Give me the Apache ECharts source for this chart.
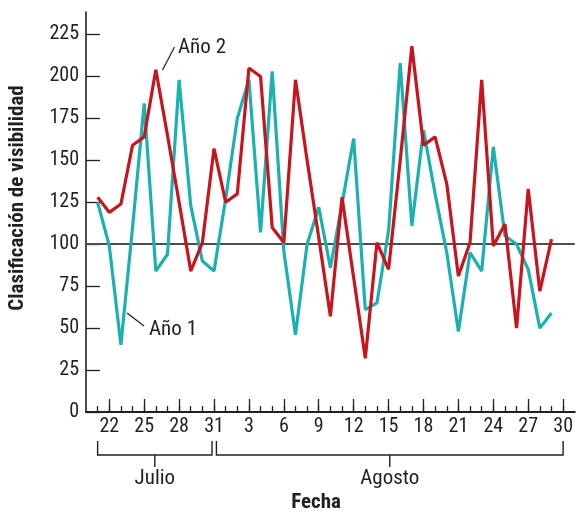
<!DOCTYPE html>
<html>
<head>
<meta charset="utf-8">
<script src="https://cdn.jsdelivr.net/npm/echarts@6/dist/echarts.min.js"></script>
<style>
html,body{margin:0;padding:0;background:#fff;}
#c{width:576px;height:512px;}
</style>
</head>
<body>
<div id="c"></div>
<script>
// ---- data ----
const julyDays = [20,21,22,23,24,25,26,27,28,29,30,31];
const augDays = [];
for (let d = 1; d <= 31; d++) augDays.push(d);
const axisDays = julyDays.map(d => 'Jul ' + d).concat(augDays.map(d => 'Ago ' + d));
const dates = axisDays.slice(1, 41); // Jul 21 .. Ago 29
const year1 = [125,99,40,110,184,84,94,198,123,90,84,
  127,175,198,107,203,96,46,100,122,86,124,163,61,65,108,208,111,168,130,95,48,95,84,158,105,100,85,50,59];
const year2 = [128,119,124,159,164,204,165,125,84,101,157,
  125,130,205,200,110,101,198,150,104,57,128,80,32,101,85,150,218,159,164,136,81,101,198,99,112,50,133,72,103];
const yTicks = [0,25,50,75,100,125,150,175,200,225];
const refValue = 100;
const seriesNames = ['Año 1','Año 2'];
const monthNames = ['Julio','Agosto'];
const xTitle = 'Fecha';
const yTitle = 'Clasificación de visibilidad';

const FONT = '"Roboto Condensed","Liberation Sans Narrow","Arial Narrow",sans-serif';
const CYAN = '#1bb1b0';
const RED = '#c8141e';
const INK = '#231f20';

const chart = echarts.init(document.getElementById('c'), null, {renderer: 'canvas'});

const labelShown = (i) => i % 3 === 2 && i <= 41;

chart.setOption({
  animation: false,
  backgroundColor: '#fff',
  grid: {left: 86, right: 0, top: 12, bottom: 100, containLabel: false},
  xAxis: [{
    type: 'category', data: axisDays, boundaryGap: false, position: 'bottom',
    axisLine: {lineStyle: {color: INK, width: 2}},
    axisTick: {show: true, inside: true, length: 6, lineStyle: {color: INK, width: 1.3},
      interval: (i) => i >= 1 && i <= 41},
    axisLabel: {interval: (i) => labelShown(i), margin: 5, color: INK, fontFamily: FONT, fontSize: 20,
      formatter: (v) => v.split(' ')[1]},
    splitLine: {show: false}
  }, {
    type: 'category', data: axisDays, boundaryGap: false, position: 'bottom',
    axisLine: {show: false},
    axisTick: {show: true, inside: true, length: 13, lineStyle: {color: INK, width: 1.3},
      interval: (i) => labelShown(i)},
    axisLabel: {show: false},
    splitLine: {show: false}
  }],
  yAxis: {
    type: 'value', min: 0, max: 238.4,
    axisLine: {show: true, lineStyle: {color: INK, width: 1.6}},
    axisTick: {show: true, inside: true, length: 14, lineStyle: {color: INK, width: 1.3}, customValues: yTicks},
    axisLabel: {color: INK, fontFamily: FONT, fontSize: 20, margin: 7, customValues: yTicks},
    splitLine: {show: false}
  },
  series: [{
    name: seriesNames[0], type: 'line', xAxisIndex: 0,
    data: dates.map((d, i) => [d, year1[i]]),
    symbol: 'none', lineStyle: {color: CYAN, width: 3.2}, z: 3,
    markLine: {
      silent: true, symbol: ['none','none'], label: {show: false},
      lineStyle: {color: '#4d4d4d', width: 2, type: 'solid'},
      data: [{yAxis: refValue}], z: 2
    }
  }, {
    name: seriesNames[1], type: 'line', xAxisIndex: 0,
    data: dates.map((d, i) => [d, year2[i]]),
    symbol: 'none', lineStyle: {color: RED, width: 3.2}, z: 4
  }]
});

// ---- decorations (brackets, titles, annotations) ----
const px = (name) => chart.convertToPixel({xAxisIndex: 0}, name);
const xJ0 = px('Jul 21'), xJ1 = px('Jul 31') - 2, xA0 = px('Jul 31') + 2.4, xA1 = px('Ago 30');
const bTop = 441, bMid = 455, bBot = 467;
const stroke = {stroke: INK, lineWidth: 1.4, fill: null};
function bracket(x0, x1) {
  const cx = (x0 + x1) / 2;
  return [
    {type: 'polyline', shape: {points: [[x0, bTop], [x0, bMid], [x1, bMid], [x1, bTop]]}, style: stroke},
    {type: 'line', shape: {x1: cx, y1: bMid, x2: cx, y2: bBot}, style: stroke}
  ];
}
const txt = (text, x, y, size, weight, align, extra) => Object.assign({
  type: 'text',
  style: {text: text, x: x, y: y, align: align || 'center', verticalAlign: 'middle',
    font: (weight || 'normal') + ' ' + size + 'px ' + FONT, fill: INK}
}, extra || {});

chart.setOption({
  graphic: [].concat(
    bracket(xJ0, xJ1),
    bracket(xA0, xA1),
    [
      txt(monthNames[0], (xJ0 + xJ1) / 2, 479, 21),
      txt(monthNames[1], (xA0 + xA1) / 2, 479, 21),
      txt(xTitle, 316, 503, 21, 'bold'),
      txt(yTitle, 0, 0, 21, 'bold', 'center', {x: 18, y: 198, rotation: Math.PI / 2}),
      txt(seriesNames[1], 178, 47.5, 21, 'normal', 'left'),
      txt(seriesNames[0], 149, 330, 21, 'normal', 'left'),
      {type: 'line', shape: {x1: 162.5, y1: 70, x2: 174.5, y2: 47}, style: {stroke: INK, lineWidth: 1.2}},
      {type: 'line', shape: {x1: 127, y1: 313, x2: 144, y2: 326}, style: {stroke: INK, lineWidth: 1.2}}
    ]
  )
});
</script>
</body>
</html>
